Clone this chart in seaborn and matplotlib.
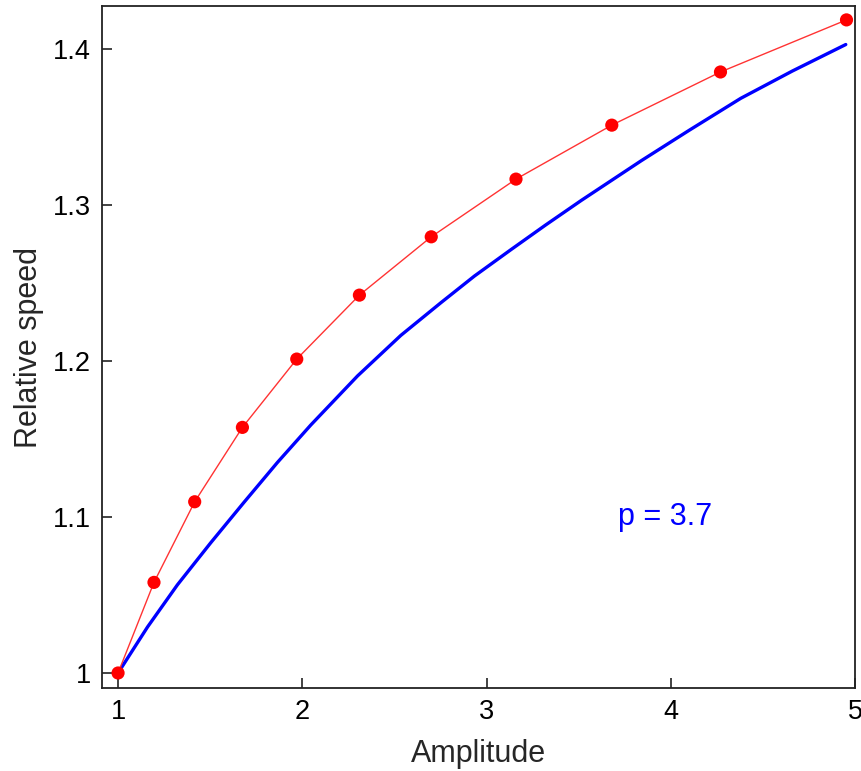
import numpy as np
import matplotlib
matplotlib.use("Agg")
import matplotlib.pyplot as plt
import seaborn as sns
import pandas as pd

# red measured points
amp_pts = [1.0, 1.195, 1.416, 1.675, 1.97, 2.31, 2.70, 3.16, 3.68, 4.27, 4.954]
speed_pts = [1.0, 1.0581, 1.1098, 1.1575, 1.2013, 1.2423, 1.2797, 1.3167, 1.3513, 1.3854, 1.4188]

# blue curve
amp_curve = [1.0, 1.16, 1.322, 1.503, 1.684, 1.865, 2.046, 2.30, 2.535, 2.753, 2.934,
             3.133, 3.32, 3.514, 3.84, 4.1, 4.38, 4.66, 4.95]
speed_curve = [1.0, 1.0295, 1.0565, 1.0835, 1.1095, 1.135, 1.159, 1.1905, 1.2165, 1.2375, 1.2545,
               1.2715, 1.2872, 1.303, 1.3285, 1.348, 1.3685, 1.386, 1.403]

pts = pd.DataFrame({"Amplitude": amp_pts, "Relative speed": speed_pts})
curve = pd.DataFrame({"Amplitude": amp_curve, "Relative speed": speed_curve})

sns.set_style("ticks")
plt.rcParams['font.family'] = ['Liberation Sans', 'DejaVu Sans']

fig = plt.figure(figsize=(8.61, 7.71), dpi=100)
ax = fig.add_axes([0.1185, 0.1077, 0.8745, 0.8843])

sns.lineplot(data=curve, x="Amplitude", y="Relative speed", color="#0000ff", lw=2.4, ax=ax)
sns.lineplot(data=pts, x="Amplitude", y="Relative speed", color="#ff3333", lw=1.0, ax=ax)
sns.scatterplot(data=pts, x="Amplitude", y="Relative speed", color="#ff0000", s=90, edgecolor="none", ax=ax, zorder=5)

ax.set_xlim(0.913, 5.0)
ax.set_ylim(0.9904, 1.4276)
ax.set_xticks([1, 2, 3, 4, 5])
ax.set_xticklabels(["1", "2", "3", "4", "5"])
ax.set_yticks([1.0, 1.1, 1.2, 1.3, 1.4])
ax.set_yticklabels(["1", "1.1", "1.2", "1.3", "1.4"])
ax.tick_params(direction="in", length=7, width=1.2, labelsize=19.5, colors="#222222", labelcolor="black", pad=8)
for s in ax.spines.values():
    s.set_visible(True)
    s.set_linewidth(1.3)
    s.set_color("#222222")

ax.set_xlabel("Amplitude", fontsize=22, labelpad=10)
ax.set_ylabel("Relative speed", fontsize=22, labelpad=6)
ax.text(3.97, 1.1, "p = 3.7", color="#0000ff", fontsize=22, ha="center", va="center")

fig.savefig("out.png", dpi=100)
